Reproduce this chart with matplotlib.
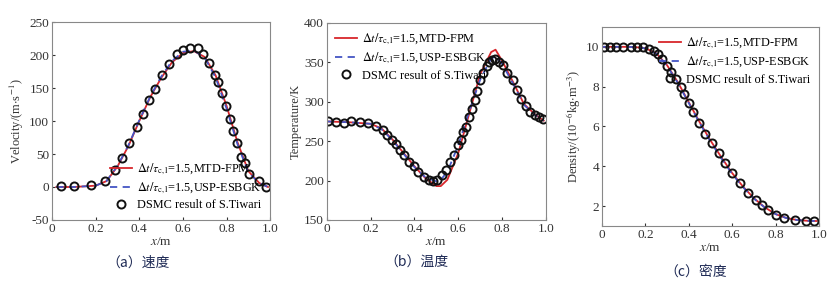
import matplotlib
matplotlib.use('Agg')
import matplotlib.pyplot as plt
import numpy as np

plt.rcParams['font.family'] = ['Liberation Serif', 'Noto Sans CJK SC']
plt.rcParams['mathtext.fontset'] = 'stix'
plt.rcParams['axes.unicode_minus'] = False

# ---- (a) velocity ----
va_x = [0.02, 0.1, 0.2, 0.25, 0.3, 0.35, 0.4, 0.45, 0.5, 0.55, 0.6, 0.65, 0.7, 0.75, 0.8, 0.85, 0.9, 0.95, 0.99]
va_mtd = [0, 0, 2, 9, 31, 62, 100, 136, 165, 189, 203, 206, 197, 169, 123, 68, 24, 6, 0]
va_usp = [0, 0, 2, 9, 32, 63, 101, 137, 167, 191, 205, 207, 196, 166, 119, 65, 22, 6, 0]
va_dx = [0.043, 0.102, 0.179, 0.244, 0.287, 0.322, 0.353, 0.388, 0.415, 0.444, 0.47, 0.505, 0.536,
         0.573, 0.602, 0.632, 0.67, 0.69, 0.72, 0.747, 0.762, 0.779, 0.797, 0.814, 0.829, 0.847,
         0.866, 0.884, 0.905, 0.947, 0.98]
va_dy = [1, 1, 2.5, 9, 25, 44, 66, 91, 111, 132, 149, 169, 186, 202, 208, 211, 210, 202, 188, 169,
         159, 143, 123, 103, 85, 67, 45, 36, 20, 9, 0]

# ---- (b) temperature ----
tb_x = [0.0, 0.1, 0.2, 0.25, 0.3, 0.35, 0.4, 0.45, 0.5, 0.52, 0.55, 0.6, 0.65, 0.7, 0.75, 0.77, 0.8, 0.85, 0.9, 0.95, 0.99]
tb_mtd = [275, 274, 272, 266, 252, 235, 218, 203, 193, 193, 201, 235, 285, 335, 363, 366, 352, 325, 297, 284, 276]
tb_usp = [275, 274, 272, 265, 251, 234, 217, 204, 199, 201, 211, 245, 288, 328, 355, 357, 348, 323, 296, 283, 276]
tb_dx = [0.006, 0.04, 0.076, 0.108, 0.149, 0.188, 0.226, 0.256, 0.274, 0.299, 0.317, 0.335, 0.354,
         0.375, 0.396, 0.418, 0.442, 0.466, 0.485, 0.503, 0.524, 0.546, 0.564, 0.579, 0.598, 0.613,
         0.622, 0.637, 0.649, 0.662, 0.674, 0.686, 0.698, 0.713, 0.729, 0.741, 0.753, 0.768, 0.787,
         0.805, 0.823, 0.851, 0.869, 0.887, 0.909, 0.927, 0.951, 0.97, 0.985]
tb_dy = [276, 274, 273, 276, 274, 273, 269, 264, 258, 252, 246, 239, 232, 223, 218, 211, 205, 201,
         200, 201, 207, 213, 223, 233, 245, 251, 261, 268, 280, 291, 302, 314, 327, 337, 345, 350,
         353, 354, 350, 346, 337, 327, 315, 304, 294, 287, 283, 281, 278]

# ---- (c) density ----
dc_x = [0.0, 0.1, 0.15, 0.2, 0.25, 0.3, 0.35, 0.4, 0.45, 0.5, 0.55, 0.6, 0.65, 0.7, 0.75, 0.8, 0.85, 0.9, 0.95, 0.99]
dc_mtd = [10.0, 10.0, 9.99, 9.93, 9.68, 9.08, 8.22, 7.22, 6.22, 5.3, 4.46, 3.66, 2.98, 2.4, 1.94, 1.6, 1.4, 1.3, 1.26, 1.25]
dc_usp = [10.0, 10.0, 9.99, 9.92, 9.66, 9.05, 8.18, 7.18, 6.18, 5.25, 4.4, 3.62, 2.95, 2.38, 1.93, 1.6, 1.4, 1.3, 1.26, 1.25]
dc_dx = [0.008, 0.035, 0.063, 0.096, 0.136, 0.161, 0.191, 0.216, 0.24, 0.259, 0.277, 0.299, 0.317,
         0.342, 0.363, 0.378, 0.4, 0.421, 0.449, 0.476, 0.507, 0.538, 0.565, 0.599, 0.636, 0.675,
         0.709, 0.737, 0.767, 0.801, 0.841, 0.89, 0.942, 0.979]
dc_dy = [10, 10, 10, 10, 10, 9.97, 9.97, 9.87, 9.77, 9.63, 9.41, 9.06, 8.76, 8.39, 7.96, 7.62, 7.19,
         6.75, 6.18, 5.62, 5.15, 4.68, 4.18, 3.67, 3.14, 2.67, 2.3, 2.07, 1.8, 1.57, 1.4, 1.3, 1.26, 1.26]

lab_mtd = r'$\Delta t/\tau_{\rm c,l}$=1.5,MTD-FPM'
lab_usp = r'$\Delta t/\tau_{\rm c,l}$=1.5,USP-ESBGK'
lab_dsmc = 'DSMC result of S.Tiwari'

xticks = [0, 0.2, 0.4, 0.6, 0.8, 1.0]
xticklabels = ['0', '0.2', '0.4', '0.6', '0.8', '1.0']

fig = plt.figure(figsize=(8.36, 2.84), dpi=100)

panels = [
    ([0.0622, 0.2254, 0.261, 0.697], va_x, va_mtd, va_usp, va_dx, va_dy, (-50, 250),
     np.arange(-50, 251, 50), r'Velocity/(m$\cdot$s$^{-1}$)', 'lower right', (1.0, 0.0)),
    ([0.391, 0.2254, 0.262, 0.694], tb_x, tb_mtd, tb_usp, tb_dx, tb_dy, (150, 400),
     np.arange(150, 401, 50), 'Temperature/K', 'upper left', (0.0, 1.0)),
    ([0.720, 0.2042, 0.2596, 0.701], dc_x, dc_mtd, dc_usp, dc_dx, dc_dy, (1, 11),
     [2, 4, 6, 8, 10], r'Density/(10$^{-6}$kg$\cdot$m$^{-3}$)', 'upper right', (1.0, 1.0)),
]

axes = []
for rect, lx, ly1, ly2, dx, dy, ylim, yt, ylab, loc, anchor in panels:
    ax = fig.add_axes(rect)
    ax.plot(lx, ly1, color='#d8262b', lw=1.3, label=lab_mtd)
    ax.plot(lx, ly2, color='#4455c4', lw=1.3, ls=(0, (4, 3)), label=lab_usp)
    ax.plot(dx, dy, 'o', mfc='none', mec='#111111', mew=1.4, ms=5.8, label=lab_dsmc)
    ax.set_xlim(0, 1)
    ax.set_ylim(*ylim)
    ax.set_xticks(xticks)
    ax.set_xticklabels(xticklabels)
    ax.set_yticks(yt)
    ax.tick_params(direction='in', length=2, labelsize=9.5, colors='#333333', pad=2)
    for s in ax.spines.values():
        s.set_color('#888888')
        s.set_linewidth(0.8)
    ax.set_xlabel('$x$/m', fontsize=9.5, labelpad=1, color='#333333')
    ax.set_ylabel(ylab, fontsize=9, labelpad=2, color='#333333')
    ax.legend(loc=loc, bbox_to_anchor=anchor, frameon=False, fontsize=8.8,
              handlelength=1.8, handletextpad=0.4, labelspacing=0.3, borderaxespad=0.3)
    axes.append(ax)

cap_color = '#1e2a55'
fig.text(138 / 836, 1 - 263 / 284, '（a）速度', ha='center', va='center', fontsize=10,
         color=cap_color, family=['Noto Sans CJK SC'])
fig.text(416 / 836, 1 - 263 / 284, '（b）温度', ha='center', va='center', fontsize=10,
         color=cap_color, family=['Noto Sans CJK SC'])
fig.text(696 / 836, 1 - 272 / 284, '（c）密度', ha='center', va='center', fontsize=10,
         color=cap_color, family=['Noto Sans CJK SC'])

fig.savefig('out.png', dpi=100)
